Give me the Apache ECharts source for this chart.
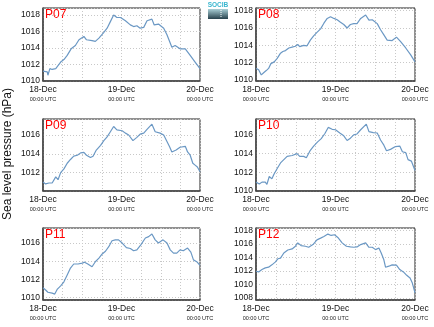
<!DOCTYPE html>
<html><head><meta charset="utf-8">
<script src="https://cdn.jsdelivr.net/npm/echarts@6/dist/echarts.min.js"></script>
<style>html,body{margin:0;padding:0;background:#fff}#c{width:434px;height:327px}</style>
</head><body><div id="c"></div>
<script>
const stations = ['P07','P08','P09','P10','P11','P12'];
const dayLabels = ['18-Dec','19-Dec','20-Dec'];
const timeLabel = '00:00 UTC';
const yTitle = 'Sea level pressure (hPa)';
const logoText = 'SOCIB';

const p07Hours = [0,1.3,1.5,2.1,2.8,3.9,5.4,6.4,7.4,8.6,9.9,11.0,12.5,13.3,15.0,16.0,17.1,18.6,19.6,20.6,21.6,22.6,23.7,25.2,26.7,27.7,28.7,29.7,30.8,31.8,33.3,34.0,35.3,36.9,37.9,39.4,40.4,41.9,43.5,45.0,46.5,48];
const p07Values = [1011.2,1011.1,1010.7,1011.5,1011.4,1011.5,1012.3,1012.6,1013.1,1013.9,1014.3,1015.0,1015.4,1015.0,1014.9,1014.8,1015.2,1015.9,1016.4,1017.2,1018.0,1017.7,1017.7,1017.3,1016.8,1016.6,1016.7,1016.4,1016.5,1017.3,1017.5,1016.8,1016.9,1016.4,1015.6,1014.1,1014.3,1013.9,1013.9,1013.1,1012.3,1011.5];

const p08Hours = [0,0.8,1.6,2.3,3.1,3.8,4.5,5.5,6.4,7.4,8.1,8.9,9.9,10.9,11.9,12.6,13.2,14.4,15.4,16.4,17.4,18.4,19.5,20.5,21.5,22.5,23.5,24.5,25.5,26.5,27.5,28.5,29.5,30.5,31.6,33.1,34.1,35.1,36.6,37.6,38.6,39.6,41.1,42.4,43.6,45.2,46.7,48];
const p08Values = [1011.35,1011.2,1010.6,1010.85,1011.1,1011.35,1011.9,1012.1,1012.5,1013.1,1013.3,1013.4,1013.7,1013.8,1013.9,1014.1,1013.85,1014.0,1013.95,1014.6,1015.1,1015.5,1015.9,1016.55,1017.1,1017.3,1017.1,1016.95,1016.65,1016.4,1016.0,1016.4,1016.5,1016.5,1017.1,1017.5,1016.9,1016.95,1016.5,1015.8,1015.2,1014.6,1014.55,1014.95,1014.45,1013.7,1012.9,1012.1];

const p09Hours = [0,0.8,1.8,2.8,3.4,3.9,4.6,5.4,6.4,7.4,8.4,9.4,10.5,11.5,12.5,13.3,14.5,15.3,16.3,17.6,18.6,19.6,20.6,21.6,22.6,24.2,25.2,26.2,27.5,28.7,29.7,30.8,31.8,33.3,34.3,35.8,36.9,37.9,38.7,39.4,40.7,41.9,43.5,44.2,45.0,45.8,46.5,47.2,48];
const p09Values = [1011.0,1010.8,1010.9,1010.9,1010.75,1011.55,1011.25,1012.0,1012.4,1013.0,1013.4,1013.75,1013.85,1014.1,1014.15,1013.85,1013.6,1013.75,1014.4,1014.9,1015.4,1015.8,1016.35,1016.9,1016.55,1016.45,1016.2,1016.0,1015.4,1015.75,1016.1,1016.2,1016.6,1017.15,1016.35,1016.2,1016.0,1015.3,1014.75,1014.2,1014.4,1014.7,1014.8,1014.2,1013.85,1013.0,1012.8,1012.6,1012.1];

const p10Hours = [0,1.0,1.8,2.8,3.3,4.0,4.8,5.5,6.4,7.4,8.4,9.4,10.9,12.4,13.2,14.4,15.2,16.4,17.4,18.6,19.7,20.8,21.8,23.0,24.0,25.3,26.5,27.5,28.5,29.5,30.5,31.6,33.3,34.1,35.4,36.6,37.6,38.6,39.4,40.6,42.1,43.4,44.2,45.2,45.9,46.9,48];
const p10Values = [1010.95,1010.75,1010.95,1010.95,1010.7,1011.55,1011.3,1011.85,1012.4,1013.0,1013.35,1013.7,1013.8,1014.0,1013.7,1013.7,1013.55,1014.35,1014.8,1015.25,1015.6,1016.15,1016.8,1016.6,1016.55,1016.2,1015.9,1015.4,1015.65,1016.0,1016.1,1016.55,1017.15,1016.35,1016.25,1016.2,1015.45,1014.9,1014.3,1014.45,1014.75,1014.8,1014.2,1014.1,1013.35,1013.2,1012.2];

const p11Hours = [0,0.8,1.5,2.1,2.8,3.6,4.4,5.4,6.4,7.4,8.4,9.4,10.7,12.0,12.7,13.7,15.0,16.0,17.1,18.1,19.1,20.1,21.1,22.1,23.1,24.2,25.5,26.7,27.7,28.7,29.9,31.3,32.3,33.3,34.3,35.3,36.7,37.9,38.9,39.9,40.9,41.9,42.9,44.2,45.2,46.0,47.0,48];
const p11Values = [1011.1,1010.85,1010.6,1010.75,1010.5,1010.4,1010.95,1011.3,1011.75,1012.5,1013.25,1013.7,1013.7,1013.8,1013.9,1013.7,1013.4,1013.95,1014.35,1014.8,1015.1,1015.6,1016.25,1016.35,1016.35,1016.0,1015.5,1015.4,1015.15,1015.25,1015.8,1016.55,1016.7,1017.0,1016.35,1016.0,1016.35,1016.0,1015.25,1014.9,1014.9,1015.25,1015.15,1015.45,1015.0,1014.15,1013.95,1013.55];

const p12Hours = [0,0.8,1.8,2.8,3.8,4.8,5.8,6.6,7.4,8.4,9.6,10.9,11.9,12.6,13.6,14.9,15.9,17.2,18.4,19.5,20.5,21.7,22.7,23.7,24.7,26.0,27.3,28.5,29.5,30.5,31.6,33.1,34.1,35.1,36.1,37.1,37.8,38.6,39.1,40.1,41.1,42.4,43.4,44.5,45.5,46.5,47.2,48];
const p12Values = [1011.95,1011.85,1012.2,1012.45,1012.55,1012.9,1013.3,1013.8,1013.9,1014.65,1015.1,1015.25,1015.65,1016.15,1015.75,1015.65,1015.5,1015.9,1016.6,1016.85,1017.1,1017.45,1017.25,1017.35,1016.95,1016.15,1015.65,1015.55,1015.5,1015.55,1015.9,1016.15,1015.5,1015.5,1015.15,1015.4,1014.65,1013.65,1012.55,1012.7,1012.9,1012.85,1012.2,1011.85,1011.35,1010.95,1010.2,1008.75];

const yMins = [1010, 1009.9, 1010.05, 1010, 1009.75, 1007.7];
const yMaxs = [1018.85, 1018.3, 1017.7, 1017.7, 1017.65, 1018.35];

const hoursList = [p07Hours,p08Hours,p09Hours,p10Hours,p11Hours,p12Hours];
const valuesList = [p07Values,p08Values,p09Values,p10Values,p11Values,p12Values];

// layout
const colLeft = [43, 256], colWidth = [157, 159];
const rowTop = [8, 119, 228], rowHeight = [73, 72, 72];

const grids = [], xAxes = [], yAxes = [], series = [], graphics = [];
stations.forEach((name, i) => {
  const col = i % 2, row = Math.floor(i / 2);
  grids.push({left: colLeft[col], top: rowTop[row], width: colWidth[col], height: rowHeight[row],
    show: true, borderColor: '#222', borderWidth: 1, backgroundColor: '#fff'});
  xAxes.push({type: 'value', gridIndex: i, min: 0, max: 48, interval: 6,
    axisLine: {show: true, lineStyle: {color: '#444', width: 1.5}}, axisTick: {show: false},
    splitLine: {show: true, lineStyle: {color: '#c8c8c8', type: [1, 2], width: 1}},
    axisLabel: {margin: 4, lineHeight: 9, showMinLabel: true, showMaxLabel: true,
      formatter: v => (v % 24 === 0) ? '{a|' + dayLabels[v / 24] + '}\n{b|' + timeLabel + '}' : '',
      rich: {a: {fontFamily: 'Liberation Sans', fontSize: 8.5, color: '#111', lineHeight: 10},
             b: {fontFamily: 'Liberation Sans', fontSize: 5.5, color: '#222', lineHeight: 9}}}});
  yAxes.push({type: 'value', gridIndex: i, min: yMins[i], max: yMaxs[i], minInterval: 2, maxInterval: 2, splitNumber: 4,
    axisLine: {show: true, lineStyle: {color: '#444', width: 1.5}}, axisTick: {show: false},
    splitLine: {show: true, lineStyle: {color: '#c8c8c8', type: [1, 2], width: 1}},
    axisLabel: {margin: 3, fontFamily: 'Liberation Sans', fontSize: 8.5, color: '#111',
      formatter: v => (Math.abs(v % 2) < 1e-9) ? String(v) : ''}});
  series.push({type: 'line', xAxisIndex: i, yAxisIndex: i, showSymbol: false, symbol: 'none',
    data: hoursList[i].map((h, k) => [h, valuesList[i][k]]),
    lineStyle: {color: '#6b98c4', width: 1.2}, animation: false});
  graphics.push({type: 'text', left: colLeft[col] + 2, top: rowTop[row] + 1, z: 100,
    style: {text: name, fill: '#ff0000', font: '12px "Liberation Sans"'}});
});

graphics.push({type: 'text', x: 8, y: 154, rotation: Math.PI / 2, z: 100,
  style: {text: yTitle, fill: '#111', font: '12px "Liberation Sans"', align: 'center', verticalAlign: 'middle'}});
graphics.push({type: 'rect', shape: {x: 208, y: 9, width: 20, height: 10}, z: 100,
  style: {fill: new echarts.graphic.LinearGradient(0, 0, 0, 1, [{offset: 0, color: '#a9cfd6'}, {offset: 1, color: '#27414c'}])}});
graphics.push({type: 'line', shape: {x1: 221, y1: 10, x2: 221, y2: 18}, z: 101,
  style: {stroke: '#ffffff', lineWidth: 1, lineDash: [1, 1]}});
graphics.push({type: 'text', x: 218, y: 5.5, z: 100,
  style: {text: logoText, fill: '#39b6cf', font: 'bold 6.5px "Liberation Sans"', align: 'center', verticalAlign: 'middle'}});

const chart = echarts.init(document.getElementById('c'), null, {renderer: 'canvas'});
chart.setOption({animation: false, grid: grids, xAxis: xAxes, yAxis: yAxes, series: series, graphic: graphics});
</script></body></html>
